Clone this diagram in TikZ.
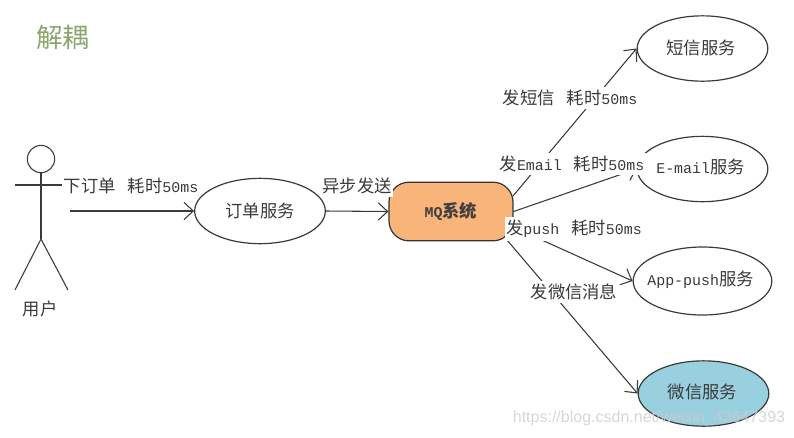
\documentclass[tikz,border=0pt]{standalone}
\usepackage{fontspec}
\setmainfont{Liberation Mono}
\newfontfamily\cjk{Noto Sans CJK SC}[Scale=1.16]
\newfontfamily\wm{Liberation Sans}
\usetikzlibrary{arrows.meta,shapes.geometric}
\newcommand{\Z}[1]{{\cjk #1}}
\newcommand{\G}{\hspace{9pt}}
\definecolor{inkc}{HTML}{3A3A3A}
\definecolor{mqfill}{HTML}{F9B47A}
\definecolor{wxfill}{HTML}{99D0E0}
\definecolor{titlec}{HTML}{8BA66D}
\tikzset{
  svc/.style={ellipse,draw=inkc,line width=0.9pt,minimum width=98pt,minimum height=49pt,inner sep=0pt,text=inkc,font=\fontsize{11.2pt}{13pt}\selectfont},
  lbl/.style={fill=white,inner xsep=1pt,inner ysep=2pt,text=inkc,font=\fontsize{11.2pt}{13pt}\selectfont},
  conn/.style={draw=inkc,line width=0.8pt,-{Straight Barb[length=7pt,width=13pt,line width=0.8pt]}},
  stick/.style={draw=inkc,line width=0.8pt},
  plain/.style={text=inkc,font=\fontsize{11.2pt}{13pt}\selectfont,inner sep=0pt},
}
\begin{document}
\begin{tikzpicture}[x=0.75pt,y=-0.75pt]
\useasboundingbox (0,0) rectangle (794,437);
\node[text=titlec,font=\fontsize{17.2pt}{24pt}\selectfont,inner sep=0pt] (title) at (63,37) {\Z{解耦}};
% actor
\node[circle,draw=inkc,line width=0.8pt,minimum size=20.5pt,inner sep=0pt] (head) at (41,159) {};
\coordinate (hip) at (41,239);
\coordinate (armL) at (15,185);
\coordinate (armR) at (63,185);
\coordinate (legL) at (15,290);
\coordinate (legR) at (68,290);
\draw[stick] (head.south) -- (hip);
\draw[stick] (armL) -- (armR);
\draw[stick] (legL) -- (hip) -- (legR);
\node[plain] (user) at (40,309) {\Z{用户}};
% nodes
\node[svc] (order) at (260,211) {\Z{订单服务}};
\node[draw=black!80,line width=0.9pt,fill=mqfill,rounded corners=15pt,minimum width=93pt,minimum height=44pt,inner sep=0pt,text=black!75,font=\fontsize{11.2pt}{13pt}\selectfont\bfseries] (mq) at (451,211.5) {MQ\Z{系统}};
\node[svc] (sms) at (702.5,48.5) {};
\node[svc] (mail) at (702.5,169) {};
\node[svc,minimum width=104pt,minimum height=51pt] (app) at (702.5,281) {};
\node[svc,fill=wxfill] (wx) at (703.5,393.5) {};
% connector ends
\coordinate (start) at (70,211);
\coordinate (mqA) at (513,196);
\coordinate (mqC) at (513,227);
\coordinate (mqD) at (507,240);
\draw[conn] (start) -- (order.west);
\draw[conn] (order.east) -- (mq.west);
\draw[conn] (mqA) -- (sms.west);
\draw[conn] (mq.east) -- (mail.west);
\draw[conn] (mqC) -- (app.west);
\draw[conn] (mqD) -- (wx.west);
% labels
\node[lbl] (l1) at (131,186) {\Z{下订单}\G\Z{耗时}50ms};
\node[lbl] (l2) at (357,186) {\Z{异步发送}};
\node[lbl] (l3) at (570,98) {\Z{发短信}\G\Z{耗时}50ms};
\node[lbl] (l4) at (572,164) {\Z{发}Email\G\Z{耗时}50ms};
\node[lbl] (l5) at (574,229) {\Z{发}push\G\Z{耗时}50ms};
\node[lbl] (l6) at (574,292) {\Z{发微信消息}};
% node texts over the labels
\node[plain] (tsms) at (701,48) {\Z{短信服务}};
\node[plain,fill=white,inner xsep=1pt,inner ysep=2pt] (tmail) at (700.5,167) {E-mail\Z{服务}};
\node[plain] (tapp) at (700.5,280) {App-push\Z{服务}};
\node[plain] (twx) at (702.5,392) {\Z{微信服务}};
% watermark
\node[text=black!20,opacity=0.8,font=\wm\fontsize{12pt}{14pt}\selectfont,inner sep=0pt] (mark) at (649,418) {https://blog.csdn.net/weixin\_43647393};
\end{tikzpicture}
\end{document}
